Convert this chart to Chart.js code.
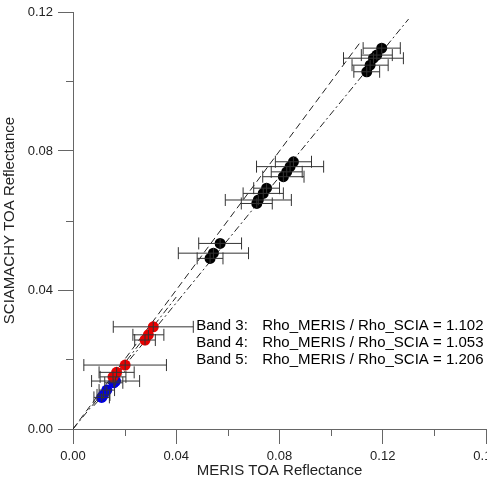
<!DOCTYPE html>
<html>
<head>
<meta charset="utf-8">
<script src="https://cdn.jsdelivr.net/npm/chart.js@4.4.1/dist/chart.umd.min.js"></script>
<style>
  html, body { margin: 0; padding: 0; background: #fff; overflow: hidden; }
  #wrap { width: 487px; height: 481px; }
</style>
</head>
<body>
<div id="wrap"><canvas id="chart"></canvas></div>
<script>
// Band 3 (black)
const band3X    = [0.1196, 0.1177, 0.1164, 0.1151, 0.1138, 0.0854, 0.0841, 0.0828, 0.0815, 0.0750, 0.0737, 0.0718, 0.0712, 0.0570, 0.0544, 0.0531];
const band3Y    = [0.1096, 0.1076, 0.1067, 0.1047, 0.1028, 0.0769, 0.0755, 0.0740, 0.0726, 0.0693, 0.0678, 0.0659, 0.0649, 0.0534, 0.0506, 0.0491];
const band3XErr = [0.0072, 0.0060, 0.0116, 0.0070, 0.0050, 0.0070, 0.0130, 0.0060, 0.0080, 0.0050, 0.0078, 0.0128, 0.0060, 0.0083, 0.0136, 0.0050];
const band3YErr = [0.0015, 0.0015, 0.0015, 0.0015, 0.0015, 0.0015, 0.0015, 0.0015, 0.0015, 0.0015, 0.0015, 0.0015, 0.0015, 0.0015, 0.0015, 0.0015];

// Band 4 (red)
const band4X    = [0.0311, 0.0292, 0.0279, 0.0202, 0.0169, 0.0155];
const band4Y    = [0.0294, 0.0271, 0.0256, 0.0184, 0.0163, 0.0150];
const band4XErr = [0.0155, 0.0060, 0.0040, 0.0160, 0.0068, 0.0050];
const band4YErr = [0.0015, 0.0015, 0.0015, 0.0015, 0.0015, 0.0015];

// Band 5 (blue)
const band5X    = [0.0111, 0.0118, 0.0131, 0.0158, 0.0165];
const band5Y    = [0.0091, 0.0098, 0.0112, 0.0133, 0.0138];
const band5XErr = [0.0030, 0.0025, 0.0030, 0.0035, 0.0093];
const band5YErr = [0.0012, 0.0012, 0.0012, 0.0012, 0.0012];

// ratios Rho_MERIS / Rho_SCIA
const bandNames = ['Band 3:', 'Band 4:', 'Band 5:'];
const ratios = [1.102, 1.053, 1.206];

// x ranges of the reference lines
const oneToOneRange = [0, 0.111];
const band3Range = [0, 0.13];
const band4Range = [0.010, 0.040];
const band5Range = [0.008, 0.020];

const xTicksMinor = [0.02, 0.06, 0.10, 0.14];
const yTicksMinor = [0.02, 0.06, 0.10];

const FONT = "'Liberation Sans', Arial, Helvetica, sans-serif";

function points(xs, ys){
    return xs.map((x, i) => ({x: x, y: ys[i]}));
}

function fitLine(range, ratio){
    return range.map(x => ({x: x, y: x / ratio}));
}

const errorBars = {
    id: 'errorBars',
    afterDatasetsDraw(chart){
        const ctx = chart.ctx;
        const xs = chart.scales.x, ys = chart.scales.y;
        ctx.save();
        ctx.strokeStyle = '#333';
        ctx.lineWidth = 1;
        chart.data.datasets.forEach(ds => {
            if (!ds.errX) return;
            ds.data.forEach((p, i) => {
                const px = xs.getPixelForValue(p.x);
                const py = ys.getPixelForValue(p.y);
                const x0 = xs.getPixelForValue(p.x - ds.errX[i]);
                const x1 = xs.getPixelForValue(p.x + ds.errX[i]);
                const y0 = ys.getPixelForValue(p.y - ds.errY[i]);
                const y1 = ys.getPixelForValue(p.y + ds.errY[i]);
                ctx.beginPath();
                ctx.moveTo(x0, py); ctx.lineTo(x1, py);
                ctx.moveTo(x0, py - 6); ctx.lineTo(x0, py + 6);
                ctx.moveTo(x1, py - 6); ctx.lineTo(x1, py + 6);
                ctx.moveTo(px, y0); ctx.lineTo(px, y1);
                ctx.stroke();
            });
        });
        ctx.restore();
    }
};

const minorTicks = {
    id: 'minorTicks',
    afterDraw(chart){
        const ctx = chart.ctx;
        const xs = chart.scales.x, ys = chart.scales.y;
        const a = chart.chartArea;
        ctx.save();
        ctx.strokeStyle = '#666';
        ctx.lineWidth = 1;
        ctx.beginPath();
        xTicksMinor.forEach(v => {
            const px = Math.round(xs.getPixelForValue(v)) + 0.5;
            ctx.moveTo(px, a.bottom); ctx.lineTo(px, a.bottom + 7);
        });
        yTicksMinor.forEach(v => {
            const py = Math.round(ys.getPixelForValue(v)) + 0.5;
            ctx.moveTo(a.left, py); ctx.lineTo(a.left - 7, py);
        });
        ctx.stroke();
        ctx.restore();
    }
};

const ratioText = {
    id: 'ratioText',
    afterDraw(chart){
        const ctx = chart.ctx;
        const x0 = chart.scales.x.getPixelForValue(0.0477);
        const y0 = chart.scales.y.getPixelForValue(0.0285);
        ctx.save();
        ctx.fillStyle = '#000';
        ctx.font = '15px ' + FONT;
        ctx.textBaseline = 'alphabetic';
        ctx.textAlign = 'left';
        bandNames.forEach((name, i) => {
            const y = y0 + i * 17;
            ctx.fillText(name, x0, y);
            ctx.fillText('Rho_MERIS / Rho_SCIA = ' + ratios[i].toFixed(3), x0 + 66, y);
        });
        ctx.restore();
    }
};

const axisCommon = {
    type: 'linear',
    border: { display: true, color: '#666', width: 1 },
    grid: { display: true, drawOnChartArea: false, drawTicks: true, tickLength: 15, color: '#666' },
    ticks: {
        stepSize: 0.04,
        color: '#222',
        font: { family: FONT, size: 13 },
        callback: v => v.toFixed(2)
    },
    title: { display: true, color: '#222', font: { family: FONT, size: 15 } }
};

new Chart(document.getElementById('chart'), {
    type: 'scatter',
    data: {
        datasets: [
            { label: 'Band 3', data: points(band3X, band3Y), errX: band3XErr, errY: band3YErr,
              pointRadius: 5.5, pointBackgroundColor: '#000', pointBorderWidth: 0 },
            { label: 'Band 4', data: points(band4X, band4Y), errX: band4XErr, errY: band4YErr,
              pointRadius: 5.5, pointBackgroundColor: '#e80000', pointBorderWidth: 0 },
            { label: 'Band 5', data: points(band5X, band5Y), errX: band5XErr, errY: band5YErr,
              pointRadius: 5.5, pointBackgroundColor: '#0000e0', pointBorderWidth: 0 },
            { label: '1:1', data: fitLine(oneToOneRange, 1), showLine: true, pointRadius: 0,
              borderColor: '#222', borderWidth: 1, borderDash: [7, 4] },
            { label: 'fit 3', data: fitLine(band3Range, ratios[0]), showLine: true, pointRadius: 0,
              borderColor: '#222', borderWidth: 1, borderDash: [7, 3, 2, 3] },
            { label: 'fit 4', data: fitLine(band4Range, ratios[1]), showLine: true, pointRadius: 0,
              borderColor: '#222', borderWidth: 1, borderDash: [7, 3, 2, 3] },
            { label: 'fit 5', data: fitLine(band5Range, ratios[2]), showLine: true, pointRadius: 0,
              borderColor: '#222', borderWidth: 1, borderDash: [7, 3, 2, 3] }
        ]
    },
    options: {
        responsive: true,
        maintainAspectRatio: false,
        animation: false,
        layout: { autoPadding: false, padding: { top: 12, right: 1, bottom: 0, left: 0 } },
        plugins: { legend: { display: false }, tooltip: { enabled: false } },
        scales: {
            x: Object.assign({}, axisCommon, {
                min: 0, max: 0.16,
                ticks: Object.assign({}, axisCommon.ticks, { padding: 5, maxRotation: 0 }),
                title: Object.assign({}, axisCommon.title, { text: 'MERIS TOA Reflectance', padding: { top: 0, bottom: 1 } }),
                afterFit(scale){
                    scale.height = 52;
                    scale.paddingLeft = 0;
                    scale.paddingRight = 0;
                }
            }),
            y: Object.assign({}, axisCommon, {
                min: 0, max: 0.12,
                ticks: Object.assign({}, axisCommon.ticks, { padding: 5 }),
                title: Object.assign({}, axisCommon.title, { text: 'SCIAMACHY TOA Reflectance', padding: { top: 1, bottom: 0 } }),
                afterFit(scale){
                    scale.width = 73;
                    scale.paddingTop = 0;
                    scale.paddingBottom = 0;
                }
            })
        }
    },
    plugins: [errorBars, minorTicks, ratioText]
});
</script>
</body>
</html>
